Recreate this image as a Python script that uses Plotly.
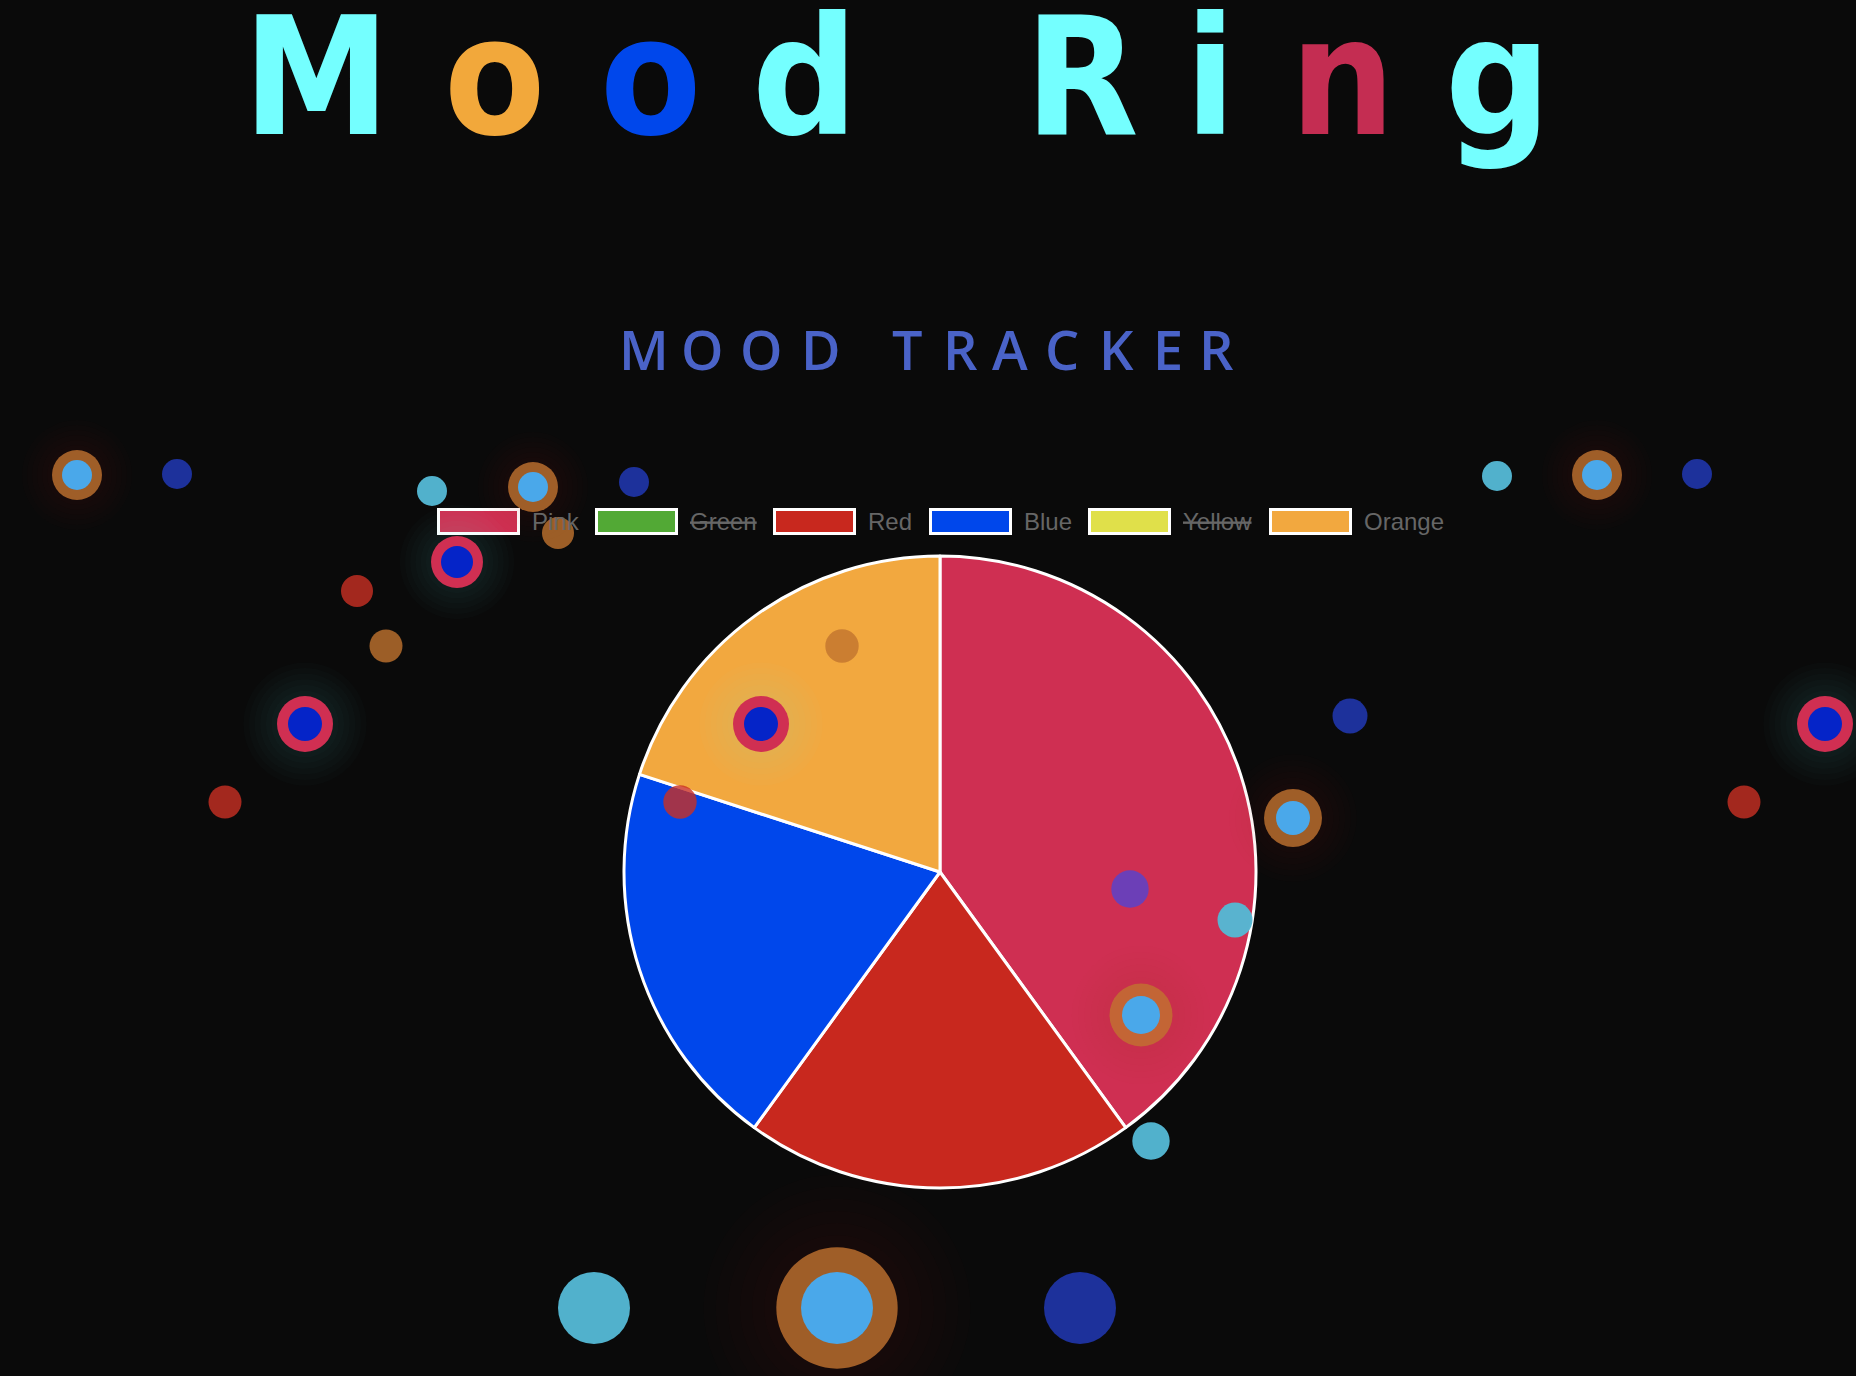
import plotly.graph_objects as go

W, H = 1856, 1376

# ---------------- data ----------------
moods = ["Pink", "Green", "Red", "Blue", "Yellow", "Orange"]
mood_counts = [2, 1, 1, 1, 1, 1]
mood_colors = ["#CF2F52", "#52A935", "#C8281E", "#0047EB", "#E0E04A", "#F2A83F"]
hidden_moods = ["Green", "Yellow"]

title_letters = ["M", "o", "o", "d", "R", "i", "n", "g"]
title_colors = ["#74FFFF", "#F2A83B", "#0047EB", "#74FFFF", "#74FFFF", "#74FFFF", "#C42D52", "#74FFFF"]
title_x = [316, 494, 650, 805, 1082, 1210, 1342, 1498]

subtitle_letters = ["M", "O", "O", "D", "T", "R", "A", "C", "K", "E", "R"]
subtitle_x = [644, 702, 761, 821, 907, 960, 1010, 1062, 1116, 1168, 1216]

# floating mood bubbles (plain dots)
dot_x = [177, 432, 634, 558, 357, 386, 225, 680, 842, 1497, 1697, 1350, 1744, 1130, 1235, 1151, 594, 1080]
dot_y = [474, 491, 482, 533, 591, 646, 802, 802, 646, 476, 474, 716, 802, 889, 920, 1141, 1308, 1308]
dot_r = [15, 15, 15, 16, 16, 16.5, 16.5, 16.7, 16.7, 15, 15, 17.5, 16.5, 18.7, 17.5, 18.7, 36, 36]
dot_kind = ["navy", "cyan", "navy", "amber", "red", "amber", "red", "red", "amber", "cyan", "navy",
            "navy", "red", "navy", "cyan", "cyan", "cyan", "navy"]

# ring bubbles
ring_x = [77, 533, 1597, 1293, 1141, 837, 457, 305, 761, 1825]
ring_y = [475, 487, 475, 818, 1015, 1308, 562, 724, 724, 724]
ring_outer = [25, 25, 25, 29, 31.5, 60.7, 26, 28, 28, 28]
ring_inner = [15, 15, 15, 17, 19, 36, 16, 17, 17, 17]
ring_kind = ["amber", "amber", "amber", "amber", "amber", "amber", "rose", "rose", "rose", "rose"]

# ---------------- styles ----------------
BG = "#0a0a0a"
dot_fill = {
    "navy": "rgba(41,75,251,0.6)",
    "cyan": "rgba(84,184,212,0.96)",
    "amber": "rgba(192,115,46,0.8)",
    "red": "rgba(201,48,35,0.8)",
}
ring_fill = {"amber": "rgba(194,115,48,0.8)", "rose": "#D02F52"}
ring_core = {"amber": "#4AA8EA", "rose": "#0524C8"}
ring_glow = {"amber": "rgba(200,40,40,0.014)", "rose": "rgba(140,235,235,0.016)"}

CX, CY, R = 940, 872, 316


def px(x):
    return x / W


def py(y):
    return 1 - y / H


fig = go.Figure()

fig.add_trace(go.Pie(
    labels=moods,
    values=mood_counts,
    marker=dict(colors=mood_colors, line=dict(color="#ffffff", width=3)),
    sort=False,
    direction="clockwise",
    rotation=0,
    textinfo="none",
    hoverinfo="label+value",
    showlegend=False,
    domain=dict(x=[px(CX - R), px(CX + R)], y=[py(CY + R), py(CY - R)]),
))

# invisible anchor trace for the overlay axes used by the bubbles
fig.add_trace(go.Scatter(
    x=dot_x + ring_x, y=dot_y + ring_y, mode="markers",
    marker=dict(opacity=0), hoverinfo="skip", showlegend=False,
))

shapes = []

# custom legend (swatches)
legend_x = [437, 595, 773, 929, 1088, 1269]
LY0, LY1, SW = 508, 535, 83
for i, (lab, col) in enumerate(zip(moods, mood_colors)):
    x0 = legend_x[i]
    shapes.append(dict(type="rect", xref="x", yref="y", x0=x0, x1=x0 + SW, y0=LY0, y1=LY1,
                       fillcolor="#ffffff", line=dict(width=0), layer="above"))
    shapes.append(dict(type="rect", xref="x", yref="y", x0=x0 + 3, x1=x0 + SW - 3, y0=LY0 + 3, y1=LY1 - 3,
                       fillcolor=col, line=dict(width=0), layer="above"))


def circ(cx, cy, r, color):
    return dict(type="circle", xref="x", yref="y", x0=cx - r, x1=cx + r, y0=cy - r, y1=cy + r,
                fillcolor=color, line=dict(width=0), layer="above")


# glows
for cx, cy, ro, k in zip(ring_x, ring_y, ring_outer, ring_kind):
    n = 7
    for j in range(n):
        rr = ro * (2.2 - 1.2 * j / (n - 1))
        shapes.append(circ(cx, cy, rr, ring_glow[k]))

for cx, cy, r, k in zip(dot_x, dot_y, dot_r, dot_kind):
    shapes.append(circ(cx, cy, r, dot_fill[k]))

for cx, cy, ro, ri, k in zip(ring_x, ring_y, ring_outer, ring_inner, ring_kind):
    shapes.append(circ(cx, cy, ro, ring_fill[k]))
    shapes.append(circ(cx, cy, ri, ring_core[k]))

annotations = []
for ch, col, x in zip(title_letters, title_colors, title_x):
    annotations.append(dict(text=ch, x=px(x), y=py(78), xref="paper", yref="paper",
                            xanchor="center", yanchor="middle", showarrow=False,
                            font=dict(family="DejaVu Sans Condensed, DejaVu Sans", size=164,
                                      color=col, weight="bold")))
for ch, x in zip(subtitle_letters, subtitle_x):
    annotations.append(dict(text=ch, x=px(x), y=py(349), xref="paper", yref="paper",
                            xanchor="center", yanchor="middle", showarrow=False,
                            font=dict(family="Open Sans", size=54, color="#4A63C8", weight=600)))
for i, lab in enumerate(moods):
    txt = f"<s>{lab}</s>" if lab in hidden_moods else lab
    annotations.append(dict(text=txt, x=px(legend_x[i] + SW + 10), y=py(521), xref="paper", yref="paper",
                            xanchor="left", yanchor="middle", showarrow=False,
                            font=dict(family="Liberation Sans, Arial, sans-serif", size=24, color="#666666")))

fig.update_layout(
    width=W, height=H,
    margin=dict(l=0, r=0, t=0, b=0),
    paper_bgcolor=BG, plot_bgcolor="rgba(0,0,0,0)",
    hiddenlabels=hidden_moods,
    showlegend=False,
    xaxis=dict(range=[0, W], visible=False, fixedrange=True, domain=[0, 1]),
    yaxis=dict(range=[H, 0], visible=False, fixedrange=True, domain=[0, 1]),
    shapes=shapes,
    annotations=annotations,
)

fig.write_html("out.html")
